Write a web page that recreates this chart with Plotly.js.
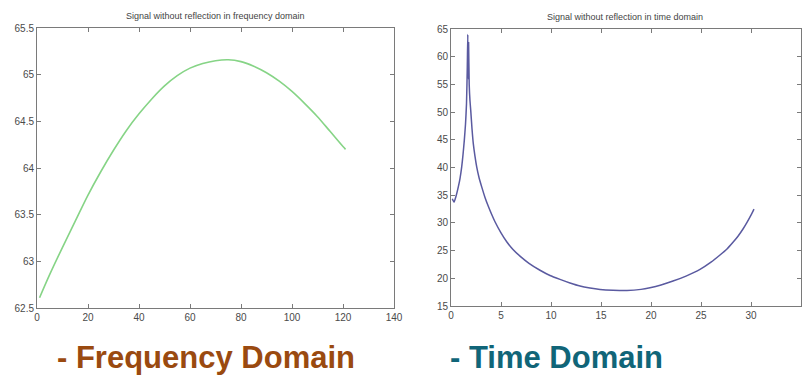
<!DOCTYPE html>
<html>
<head>
<meta charset="utf-8">
<script src="https://cdn.plot.ly/plotly-3.0.1.min.js"></script>
<style>
html,body{margin:0;padding:0;background:#fff;}
#chart{width:802px;height:376px;}
</style>
</head>
<body>
<div id="chart"></div>
<script>
// Frequency-domain signal (left panel)
var freqX = [1, 5, 10, 15, 20, 25, 30, 35, 40, 45, 50, 55, 60, 65, 70, 75, 80, 85, 90, 95, 100, 105, 110, 115, 120, 121];
var freqY = [62.61, 62.86, 63.15, 63.43, 63.71, 63.96, 64.19, 64.40, 64.58, 64.74, 64.88, 64.99, 65.07, 65.12, 65.15, 65.16, 65.14, 65.09, 65.02, 64.93, 64.82, 64.69, 64.55, 64.39, 64.23, 64.20];

// Time-domain signal (right panel)
var timeX = [0.13, 0.3, 0.5, 0.73, 0.9, 1.07, 1.2, 1.33, 1.45, 1.55, 1.63, 1.68, 1.72, 1.76, 1.82, 1.9, 1.97, 2.1, 2.23, 2.4, 2.57, 2.8, 3.07, 3.4, 3.73, 4.05, 4.4, 5.0, 5.57, 6.2, 6.9, 7.8, 8.9, 9.9, 10.9, 11.9, 12.9, 13.9, 14.9, 16.2, 17.6, 19.0, 19.9, 21.0, 22.2, 23.5, 24.9, 26.0, 26.9, 27.6, 28.2, 28.7, 29.2, 29.6, 30.0, 30.3];
var timeY = [34.35, 33.75, 34.8, 36.5, 38.0, 40.1, 42.3, 44.9, 47.8, 51.5, 58.2, 64.0, 56.0, 62.5, 55.0, 52.0, 50.4, 47.0, 44.3, 42.0, 40.1, 38.2, 36.5, 34.6, 33.0, 31.6, 30.2, 28.2, 26.6, 25.2, 24.0, 22.7, 21.45, 20.5, 19.8, 19.15, 18.6, 18.25, 18.0, 17.85, 17.8, 18.0, 18.3, 18.8, 19.5, 20.4, 21.6, 22.9, 24.2, 25.3, 26.5, 27.6, 28.9, 30.1, 31.4, 32.5];

// Axis ticks
var freqXTicks = [0, 20, 40, 60, 80, 100, 120, 140];
var freqYTicks = [62.5, 63, 63.5, 64, 64.5, 65, 65.5];
var freqYTickText = ["62.5", "63", "63.5", "64", "64.5", "65", "65.5"];
var timeXTicks = [0, 5, 10, 15, 20, 25, 30, 35];
var timeYTicks = [15, 20, 25, 30, 35, 40, 45, 50, 55, 60, 65];

// Texts
var freqTitle = "Signal without reflection in frequency domain";
var timeTitle = "Signal without reflection in time domain";
var freqCaption = "- Frequency Domain";
var timeCaption = "- Time Domain";

var W = 802, H = 376;
function px(x){ return x / W; }
function py(y){ return 1 - y / H; }

var tickFont = {family: "Liberation Sans, Arial, sans-serif", size: 10, color: "#4a4a4a"};
function axisBase(){
  return {
    showline: true, linecolor: "#7a7a7a", linewidth: 1, mirror: "ticks",
    ticks: "inside", ticklen: 4, tickwidth: 1, tickcolor: "#7a7a7a",
    showgrid: false, zeroline: false, tickfont: tickFont, fixedrange: true
  };
}

var xa1 = Object.assign(axisBase(), {domain: [px(37), px(394)], range: [0, 140], tickmode: "array", tickvals: freqXTicks, anchor: "y"});
var ya1 = Object.assign(axisBase(), {domain: [py(308), py(28)], range: [62.5, 65.5], tickmode: "array", tickvals: freqYTicks, ticktext: freqYTickText, anchor: "x"});
var xa2 = Object.assign(axisBase(), {domain: [px(451), px(801)], range: [0, 35], tickmode: "array", tickvals: timeXTicks, anchor: "y2"});
var ya2 = Object.assign(axisBase(), {domain: [py(306), py(29)], range: [15, 65], tickmode: "array", tickvals: timeYTicks, anchor: "x2"});

var traces = [
  {x: freqX, y: freqY, xaxis: "x", yaxis: "y", type: "scatter", mode: "lines",
   line: {color: "#86d486", width: 1.6, shape: "spline", smoothing: 1}, hoverinfo: "skip"},
  {x: timeX, y: timeY, xaxis: "x2", yaxis: "y2", type: "scatter", mode: "lines",
   line: {color: "#5a5aa0", width: 1.5, shape: "spline", smoothing: 0.5}, hoverinfo: "skip"}
];

var captionFont = {family: "Liberation Sans, Arial, sans-serif", size: 31};
var layout = {
  width: W, height: H,
  margin: {l: 0, r: 0, t: 0, b: 0},
  paper_bgcolor: "#ffffff", plot_bgcolor: "#ffffff",
  showlegend: false,
  xaxis: xa1, yaxis: ya1, xaxis2: xa2, yaxis2: ya2,
  annotations: [
    {text: freqTitle, xref: "paper", yref: "paper", x: px(215), y: py(16), xanchor: "center", yanchor: "middle",
     showarrow: false, font: {family: "Liberation Sans, Arial, sans-serif", size: 9, color: "#444"}},
    {text: timeTitle, xref: "paper", yref: "paper", x: px(625), y: py(17), xanchor: "center", yanchor: "middle",
     showarrow: false, font: {family: "Liberation Sans, Arial, sans-serif", size: 9, color: "#444"}},
    {text: "<b>" + freqCaption + "</b>", xref: "paper", yref: "paper", x: px(206), y: 0, xanchor: "center", yanchor: "bottom",
     borderpad: 0, showarrow: false, font: Object.assign({color: "#9a4a10"}, captionFont)},
    {text: "<b>" + timeCaption + "</b>", xref: "paper", yref: "paper", x: px(556), y: 0, xanchor: "center", yanchor: "bottom",
     borderpad: 0, showarrow: false, font: Object.assign({color: "#106578"}, captionFont)}
  ]
};

Plotly.newPlot("chart", traces, layout, {staticPlot: true, displayModeBar: false});
</script>
</body>
</html>
